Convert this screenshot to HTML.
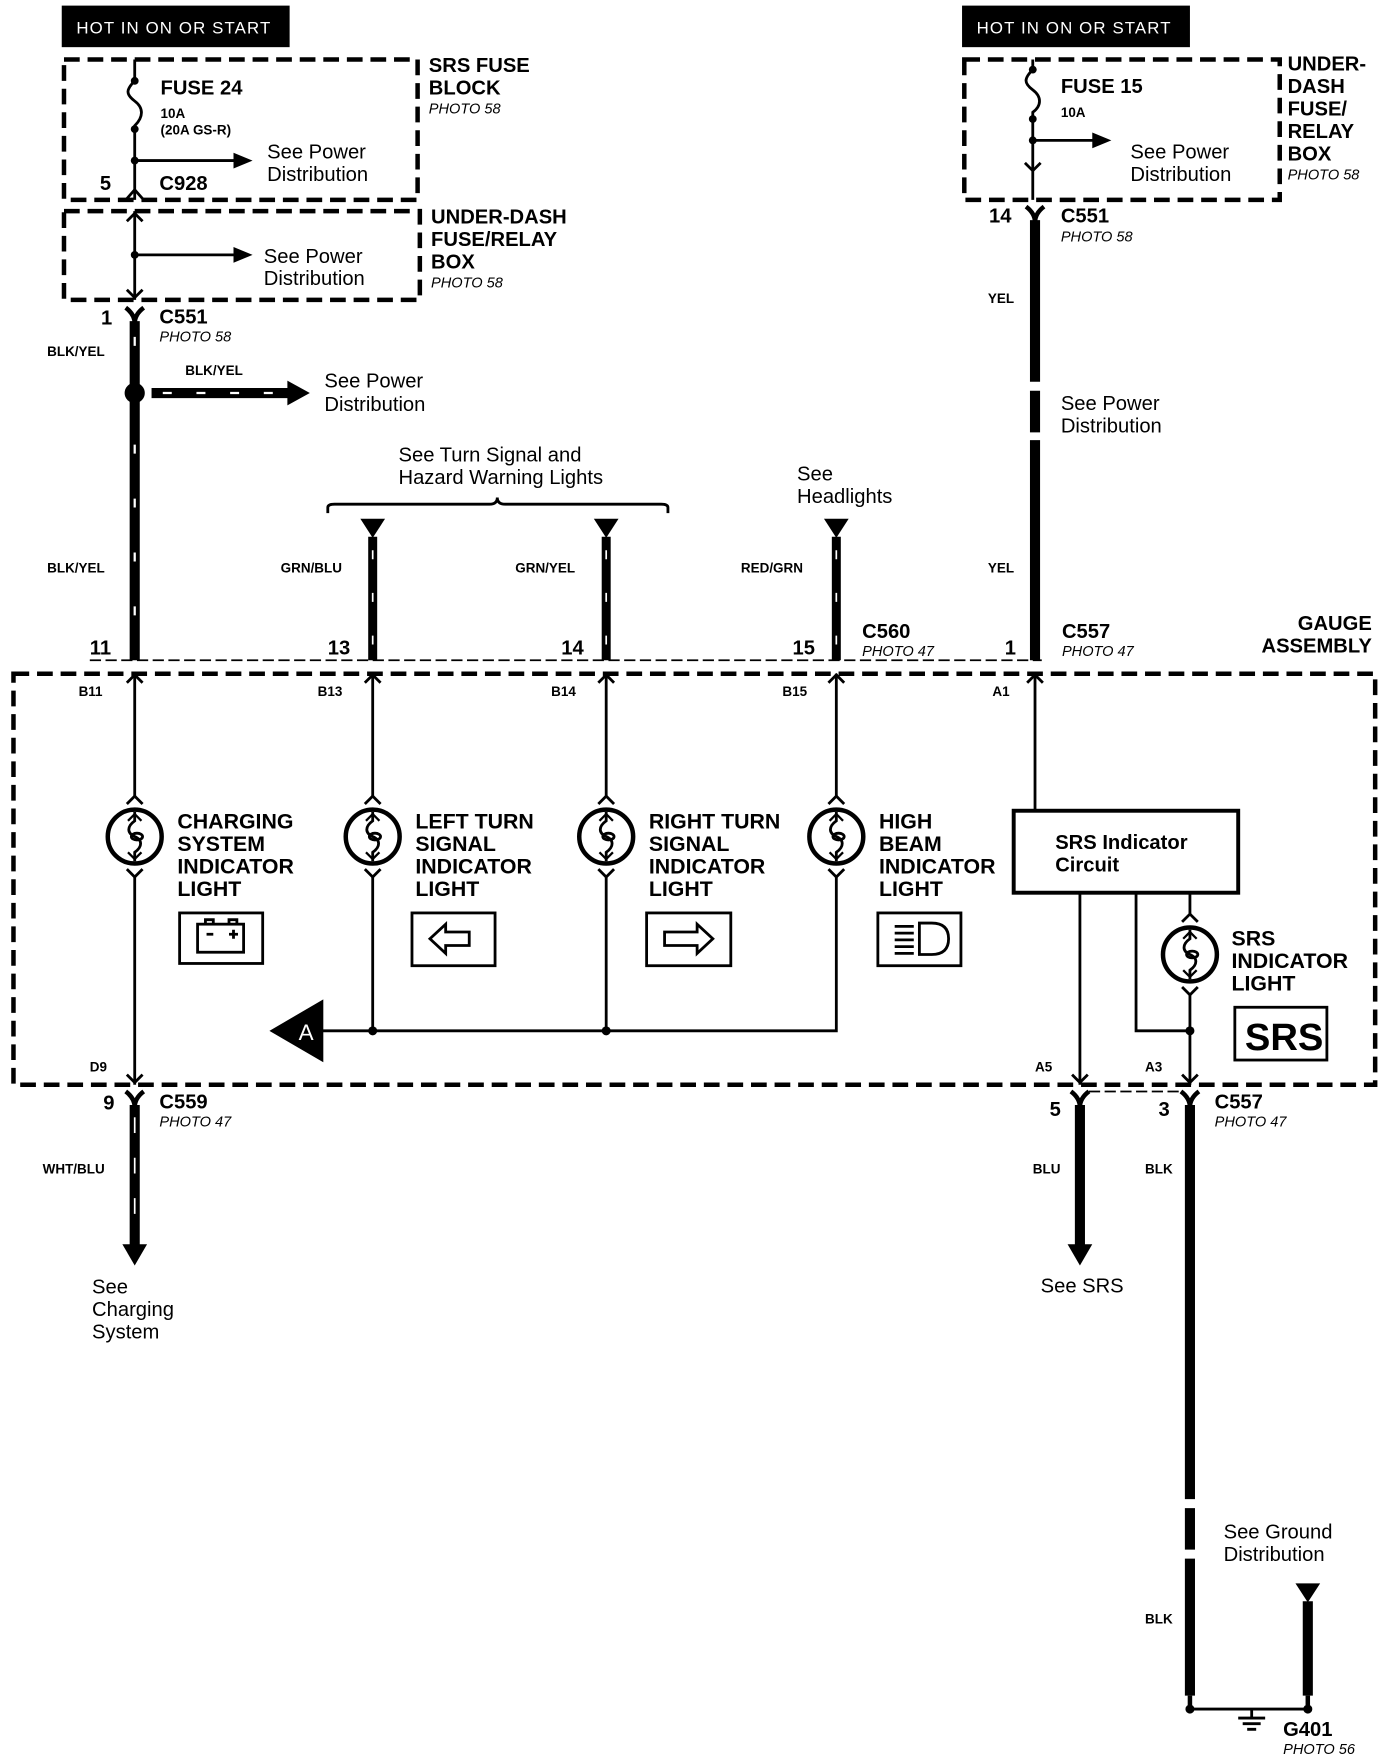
<!DOCTYPE html>
<html><head><meta charset="utf-8"><style>
html,body{margin:0;padding:0;background:#fff}
svg{display:block}
text{font-family:"Liberation Sans",sans-serif;fill:#000}
.b{font-weight:bold;font-size:18px}
.r{font-size:18px}
.s{font-weight:bold;font-size:12px}
.i{font-style:italic;font-size:13px}
.big{font-weight:bold;font-size:19px}
</style></head><body>
<svg width="1392" height="1754" viewBox="0 0 1240 1562" preserveAspectRatio="none" xmlns="http://www.w3.org/2000/svg">
<defs>
<g id="bulb" fill="none" stroke="#000">
<circle r="24" stroke-width="4"/>
<path d="M0,-22 L0,-14 C-7,-9 -7,-3 0,0 C7,3 7,9 0,14 L0,22" stroke-width="2.5"/>
<ellipse cx="2" cy="0" rx="5" ry="3" stroke-width="2.5"/>
<path d="M-6,-14 L0,-20 L6,-14 M-6,14 L0,20 L6,14" stroke-width="2"/>
<path d="M-7,-29 L0,-36 L7,-29 M-7,29 L0,36 L7,29" stroke-width="2.5"/>
</g>
<g id="chevup" fill="none" stroke="#000" stroke-width="2.5"><path d="M-7,7 L0,0 L7,7"/></g>
<g id="chevdn" fill="none" stroke="#000" stroke-width="2.5"><path d="M-7,-7 L0,0 L7,-7"/></g>
<g id="yconn" fill="none" stroke="#000" stroke-width="4"><path d="M-8,-6 Q0,0 0,8 Q0,0 8,-6"/></g>
<g id="tri"><polygon points="-11,0 11,0 0,17" fill="#000"/></g>
</defs>

<!-- LEFT TOP -->
<rect x="55" y="5" width="203" height="37" fill="#000"/>
<text x="68" y="30" style="font-size:15px;fill:#fff;letter-spacing:1px">HOT IN ON OR START</text>
<rect x="57" y="53" width="315" height="125" fill="none" stroke="#000" stroke-width="4" stroke-dasharray="14 7"/>
<path d="M120,53 L120,72 M120,72 C112,80 112,84 120,90 C128,96 128,104 120,112 L120,178" fill="none" stroke="#000" stroke-width="2.5"/>
<circle cx="120" cy="72" r="3.5"/><circle cx="120" cy="115" r="3.5"/><circle cx="120" cy="143" r="3.5"/>
<path d="M120,143 L210,143" stroke="#000" stroke-width="2.5"/>
<polygon points="208,136 225,143 208,150" fill="#000"/>
<path d="M112,178 L120,169 L128,178" fill="none" stroke="#000" stroke-width="2.5"/>
<text x="143" y="84" class="b">FUSE 24</text>
<text x="143" y="105" class="s">10A</text>
<text x="143" y="120" class="s">(20A GS-R)</text>
<text x="238" y="141" class="r">See Power</text>
<text x="238" y="161" class="r">Distribution</text>
<text x="89" y="169" class="b">5</text>
<text x="142" y="169" class="b">C928</text>
<text x="382" y="64" class="b">SRS FUSE</text>
<text x="382" y="84" class="b">BLOCK</text>
<text x="382" y="101" class="i">PHOTO 58</text>

<rect x="57" y="188" width="317" height="79" fill="none" stroke="#000" stroke-width="4" stroke-dasharray="14 7"/>
<path d="M120,188 L120,267" stroke="#000" stroke-width="2.5"/>
<use href="#chevup" x="120" y="190"/>
<use href="#chevdn" x="120" y="265"/>
<circle cx="120" cy="227" r="3.5"/>
<path d="M120,227 L210,227" stroke="#000" stroke-width="2.5"/>
<polygon points="208,220 225,227 208,234" fill="#000"/>
<text x="235" y="234" class="r">See Power</text>
<text x="235" y="254" class="r">Distribution</text>
<text x="384" y="199" class="b">UNDER-DASH</text>
<text x="384" y="219" class="b">FUSE/RELAY</text>
<text x="384" y="239" class="b">BOX</text>
<text x="384" y="256" class="i">PHOTO 58</text>

<use href="#yconn" x="120" y="280"/>
<text x="90" y="289" class="b">1</text>
<text x="142" y="288" class="b">C551</text>
<text x="142" y="304" class="i">PHOTO 58</text>
<path d="M120,286 L120,588" stroke="#000" stroke-width="9"/>
<path d="M120,300 L120,588" stroke="#fff" stroke-width="2" stroke-dasharray="8 40"/>
<text x="42" y="317" class="s">BLK/YEL</text>
<text x="42" y="510" class="s">BLK/YEL</text>
<circle cx="120" cy="350" r="9"/>
<path d="M135,350 L258,350" stroke="#000" stroke-width="9"/>
<path d="M145,350 L258,350" stroke="#fff" stroke-width="2" stroke-dasharray="8 22"/>
<polygon points="256,339 276,350 256,361" fill="#000"/>
<text x="165" y="334" class="s">BLK/YEL</text>
<text x="289" y="345" class="r">See Power</text>
<text x="289" y="366" class="r">Distribution</text>

<text x="355" y="411" class="r">See Turn Signal and</text>
<text x="355" y="431" class="r">Hazard Warning Lights</text>
<path d="M292,457 L292,452 Q292,449 298,449 L436,449 Q443,449 443,443 Q443,449 450,449 L589,449 Q595,449 595,452 L595,457" fill="none" stroke="#000" stroke-width="2.5"/>
<use href="#tri" x="332" y="462"/><use href="#tri" x="540" y="462"/><use href="#tri" x="745" y="462"/>
<path d="M332,478 L332,588 M540,478 L540,588 M745,478 L745,588" stroke="#000" stroke-width="8"/>
<path d="M332,490 L332,588 M540,490 L540,588 M745,490 L745,588" stroke="#fff" stroke-width="1.5" stroke-dasharray="8 30"/>
<text x="250" y="510" class="s">GRN/BLU</text>
<text x="459" y="510" class="s">GRN/YEL</text>
<text x="660" y="510" class="s">RED/GRN</text>
<text x="710" y="428" class="r">See</text>
<text x="710" y="448" class="r">Headlights</text>

<!-- RIGHT TOP -->
<rect x="857" y="5" width="203" height="37" fill="#000"/>
<text x="870" y="30" style="font-size:15px;fill:#fff;letter-spacing:1px">HOT IN ON OR START</text>
<rect x="859" y="53" width="281" height="125" fill="none" stroke="#000" stroke-width="4" stroke-dasharray="14 7"/>
<path d="M920,53 L920,62 C912,70 912,74 920,80 C928,86 928,94 920,100 L920,178" fill="none" stroke="#000" stroke-width="2.5"/>
<circle cx="920" cy="62" r="3.5"/><circle cx="920" cy="106" r="3.5"/><circle cx="920" cy="125" r="3.5"/>
<path d="M920,125 L975,125" stroke="#000" stroke-width="2.5"/>
<polygon points="973,118 990,125 973,132" fill="#000"/>
<use href="#chevdn" x="920" y="152"/>
<text x="945" y="83" class="b">FUSE 15</text>
<text x="945" y="104" class="s">10A</text>
<text x="1007" y="141" class="r">See Power</text>
<text x="1007" y="161" class="r">Distribution</text>
<text x="1147" y="63" class="b">UNDER-</text>
<text x="1147" y="83" class="b">DASH</text>
<text x="1147" y="103" class="b">FUSE/</text>
<text x="1147" y="123" class="b">RELAY</text>
<text x="1147" y="143" class="b">BOX</text>
<text x="1147" y="160" class="i">PHOTO 58</text>
<use href="#yconn" x="922" y="190"/>
<text x="881" y="198" class="b">14</text>
<text x="945" y="198" class="b">C551</text>
<text x="945" y="215" class="i">PHOTO 58</text>
<path d="M922,196 L922,340 M922,348 L922,385 M922,392 L922,588" stroke="#000" stroke-width="9"/>
<text x="880" y="270" class="s">YEL</text>
<text x="880" y="510" class="s">YEL</text>
<text x="945" y="365" class="r">See Power</text>
<text x="945" y="385" class="r">Distribution</text>

<!-- connectors row -->
<path d="M80,588 L928,588" stroke="#000" stroke-width="1.5" stroke-dasharray="10 4"/>
<text x="80" y="583" class="b">11</text>
<text x="292" y="583" class="b">13</text>
<text x="500" y="583" class="b">14</text>
<text x="706" y="583" class="b">15</text>
<text x="895" y="583" class="b">1</text>
<text x="768" y="568" class="b">C560</text>
<text x="768" y="584" class="i">PHOTO 47</text>
<text x="946" y="568" class="b">C557</text>
<text x="946" y="584" class="i">PHOTO 47</text>
<text x="1222" y="561" class="b" text-anchor="end">GAUGE</text>
<text x="1222" y="581" class="b" text-anchor="end">ASSEMBLY</text>

<!-- GAUGE -->
<rect x="12" y="600" width="1213" height="366" fill="none" stroke="#000" stroke-width="4" stroke-dasharray="14 7"/>
<text x="70" y="620" class="s">B11</text>
<text x="283" y="620" class="s">B13</text>
<text x="491" y="620" class="s">B14</text>
<text x="697" y="620" class="s">B15</text>
<text x="884" y="620" class="s">A1</text>
<text x="80" y="954" class="s">D9</text>
<text x="922" y="954" class="s">A5</text>
<text x="1020" y="954" class="s">A3</text>
<g stroke="#000" stroke-width="2.5" fill="none">
<path d="M120,600 L120,709 M120,781 L120,966"/>
<path d="M332,600 L332,709 M332,781 L332,918"/>
<path d="M540,600 L540,709 M540,781 L540,918"/>
<path d="M745,600 L745,709 M745,781 L745,918 L270,918"/>
<path d="M922,600 L922,722"/>
<path d="M962,795 L962,966 M1012,795 L1012,918 L1060,918 M1060,795 L1060,814 M1060,886 L1060,966"/>
</g>
<use href="#chevup" x="120" y="601"/><use href="#chevup" x="332" y="601"/><use href="#chevup" x="540" y="601"/><use href="#chevup" x="745" y="601"/><use href="#chevup" x="922" y="601"/>
<use href="#chevdn" x="120" y="964"/><use href="#chevdn" x="962" y="964"/><use href="#chevdn" x="1060" y="964"/>
<use href="#bulb" x="120" y="745"/><use href="#bulb" x="332" y="745"/><use href="#bulb" x="540" y="745"/><use href="#bulb" x="745" y="745"/><use href="#bulb" x="1060" y="850"/>
<circle cx="332" cy="918" r="4"/><circle cx="540" cy="918" r="4"/><circle cx="1060" cy="918" r="4"/>
<polygon points="240,918 288,890 288,946" fill="#000"/>
<text x="266" y="926" style="font-size:20px;fill:#fff">A</text>

<text x="158" y="738" class="big">CHARGING</text><text x="158" y="758" class="big">SYSTEM</text><text x="158" y="778" class="big">INDICATOR</text><text x="158" y="798" class="big">LIGHT</text>
<text x="370" y="738" class="big">LEFT TURN</text><text x="370" y="758" class="big">SIGNAL</text><text x="370" y="778" class="big">INDICATOR</text><text x="370" y="798" class="big">LIGHT</text>
<text x="578" y="738" class="big">RIGHT TURN</text><text x="578" y="758" class="big">SIGNAL</text><text x="578" y="778" class="big">INDICATOR</text><text x="578" y="798" class="big">LIGHT</text>
<text x="783" y="738" class="big">HIGH</text><text x="783" y="758" class="big">BEAM</text><text x="783" y="778" class="big">INDICATOR</text><text x="783" y="798" class="big">LIGHT</text>
<text x="1097" y="842" class="big">SRS</text><text x="1097" y="862" class="big">INDICATOR</text><text x="1097" y="882" class="big">LIGHT</text>

<g fill="none" stroke="#000" stroke-width="2.5">
<rect x="160" y="813" width="74" height="45"/>
<rect x="176" y="823" width="41" height="25"/>
<path d="M183,823 L183,819 L190,819 L190,823 M204,823 L204,819 L211,819 L211,823 M184,832 L190,832 M204,832 L212,832 M208,828 L208,836"/>
<rect x="367" y="813" width="74" height="47"/>
<polygon points="383,836 397,823 397,830 418,830 418,842 397,842 397,849"/>
<rect x="576" y="813" width="75" height="47"/>
<polygon points="635,836 621,823 621,830 592,830 592,842 621,842 621,849"/>
<rect x="782" y="813" width="74" height="47"/>
<path d="M797,825 L814,825 M797,831 L814,831 M797,837 L814,837 M797,843 L814,843 M797,849 L814,849"/>
<path d="M819,822 L830,822 Q845,822 845,836 Q845,850 830,850 L819,850 Z"/>
<rect x="903" y="722" width="200" height="73" stroke-width="3.5"/>
<rect x="1100" y="897" width="82" height="47"/>
</g>
<text x="940" y="756" class="b">SRS Indicator</text>
<text x="940" y="776" class="b">Circuit</text>
<text x="1109" y="935" style="font-weight:bold;font-size:34px;transform-box:fill-box">SRS</text>

<!-- BOTTOM -->
<use href="#yconn" x="120" y="978"/>
<text x="92" y="988" class="b">9</text>
<text x="142" y="987" class="b">C559</text>
<text x="142" y="1003" class="i">PHOTO 47</text>
<path d="M120,984 L120,1112" stroke="#000" stroke-width="9"/>
<path d="M120,995 L120,1100" stroke="#fff" stroke-width="1.5" stroke-dasharray="14 22"/>
<polygon points="109,1108 131,1108 120,1127" fill="#000"/>
<text x="38" y="1045" class="s">WHT/BLU</text>
<text x="82" y="1152" class="r">See</text>
<text x="82" y="1172" class="r">Charging</text>
<text x="82" y="1192" class="r">System</text>

<path d="M970,972 L1052,972" stroke="#000" stroke-width="1.5" stroke-dasharray="10 4"/>
<use href="#yconn" x="962" y="978"/><use href="#yconn" x="1060" y="978"/>
<text x="935" y="994" class="b">5</text>
<text x="1032" y="994" class="b">3</text>
<text x="1082" y="987" class="b">C557</text>
<text x="1082" y="1003" class="i">PHOTO 47</text>
<path d="M962,984 L962,1112" stroke="#000" stroke-width="9"/>
<polygon points="951,1108 973,1108 962,1127" fill="#000"/>
<text x="920" y="1045" class="s">BLU</text>
<text x="927" y="1151" class="r">See SRS</text>
<path d="M1060,984 L1060,1335 M1060,1343 L1060,1380 M1060,1388 L1060,1510" stroke="#000" stroke-width="9"/>
<text x="1020" y="1045" class="s">BLK</text>
<text x="1020" y="1446" class="s">BLK</text>
<text x="1090" y="1370" class="r">See Ground</text>
<text x="1090" y="1390" class="r">Distribution</text>
<use href="#tri" x="1165" y="1410"/>
<path d="M1165,1426 L1165,1510" stroke="#000" stroke-width="9"/>
<path d="M1060,1522 L1165,1522" stroke="#000" stroke-width="2.5"/>
<path d="M1060,1510 L1060,1522 M1165,1510 L1165,1522" stroke="#000" stroke-width="4"/>
<circle cx="1060" cy="1522" r="4"/><circle cx="1165" cy="1522" r="4"/>
<path d="M1115,1522 L1115,1530 M1103,1530 L1127,1530 M1107,1535 L1123,1535 M1111,1540 L1119,1540" stroke="#000" stroke-width="2.5"/>
<text x="1143" y="1546" class="b">G401</text>
<text x="1143" y="1562" class="i">PHOTO 56</text>
</svg>
</body></html>
